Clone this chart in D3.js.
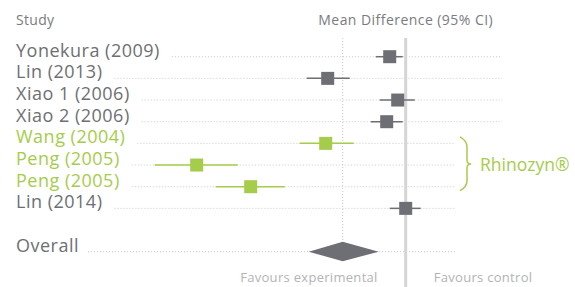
<!DOCTYPE html>
<html>
<head>
<meta charset="utf-8">
<script src="https://cdn.jsdelivr.net/npm/d3@7"></script>
<style>
  body { margin: 0; background: #fff; }
  svg { display: block; font-family: "Open Sans", sans-serif; }
</style>
</head>
<body>
<svg id="chart"></svg>
<script>
const studies = ["Yonekura (2009)", "Lin (2013)", "Xiao 1 (2006)", "Xiao 2 (2006)",
                 "Wang (2004)", "Peng (2005)", "Peng (2005)", "Lin (2014)"];
const groups = ["other", "other", "other", "other", "rhinozyn", "rhinozyn", "rhinozyn", "other"];
const meanDiff = [-0.16, -0.78, -0.08, -0.19, -0.80, -2.09, -1.55, 0.00];
const ciLow = [-0.30, -0.99, -0.26, -0.35, -1.06, -2.51, -1.90, -0.16];
const ciHigh = [-0.03, -0.56, 0.09, -0.03, -0.52, -1.68, -1.21, 0.15];
const overall = { label: "Overall", mean: -0.63, low: -0.97, high: -0.27 };
const brandLabel = "Rhinozyn®";

const width = 575, height = 287;
const grey = "#6e6f74", green = "#a6cc4b", dotGrey = "#c8c8cc";

const svg = d3.select("#chart").attr("width", width).attr("height", height);

const x = d3.scaleLinear().domain([-3, 1]).range([105.7, 505.7]);
const y = d3.scaleLinear().domain([0, 9]).range([56.7, 251.7]);
const colour = d3.scaleOrdinal().domain(["other", "rhinozyn"]).range([grey, green]);

const rows = studies.map((s, i) => ({
    name: s, group: groups[i], mean: meanDiff[i], low: ciLow[i], high: ciHigh[i], row: i
}));

// headers
svg.append("text")
    .attr("x", 16).attr("y", 24.5)
    .attr("font-size", "14px").attr("letter-spacing", "0.3px").attr("fill", "#7a7b80")
    .text("Study");
svg.append("text")
    .attr("x", x(0)).attr("y", 24.5)
    .attr("text-anchor", "middle")
    .attr("font-size", "14px").attr("letter-spacing", "0.45px").attr("fill", "#7a7b80")
    .text("Mean Difference (95% CI)");

// no-effect line
svg.append("line")
    .attr("x1", x(0)).attr("x2", x(0))
    .attr("y1", 38).attr("y2", height)
    .attr("stroke", "#d5d5d8").attr("stroke-width", 3);

// overall estimate dotted line
svg.append("line")
    .attr("x1", x(overall.mean)).attr("x2", x(overall.mean))
    .attr("y1", 38).attr("y2", y(9) - 10)
    .attr("stroke", dotGrey).attr("stroke-width", 1)
    .attr("stroke-dasharray", "1,2");

// labels
const labels = svg.append("g").selectAll("text")
    .data(rows)
    .join("text")
    .attr("x", 16)
    .attr("y", d => y(d.row))
    .attr("font-size", "18px").attr("letter-spacing", "0.5px")
    .attr("fill", d => colour(d.group))
    .text(d => d.name);

const overallLabel = svg.append("text")
    .attr("x", 16).attr("y", y(9))
    .attr("font-size", "18px").attr("letter-spacing", "0.5px").attr("fill", grey)
    .text(overall.label);

// dotted guide lines
const guides = svg.insert("g", "text");
labels.each(function(d) {
    const end = this.getComputedTextLength() + 16;
    guides.append("line")
        .attr("x1", end + 12).attr("x2", d.row < 4 ? 502 : 455)
        .attr("y1", y(d.row)).attr("y2", y(d.row))
        .attr("stroke", dotGrey).attr("stroke-dasharray", "1,2");
});
guides.append("line")
    .attr("x1", overallLabel.node().getComputedTextLength() + 16 + 9).attr("x2", 455)
    .attr("y1", y(9)).attr("y2", y(9))
    .attr("stroke", dotGrey).attr("stroke-dasharray", "1,2");

// CI lines
svg.append("g").selectAll("line")
    .data(rows)
    .join("line")
    .attr("x1", d => x(d.low)).attr("x2", d => x(d.high))
    .attr("y1", d => y(d.row)).attr("y2", d => y(d.row))
    .attr("stroke", d => colour(d.group)).attr("stroke-width", 1.5);

// squares
const sq = 13;
svg.append("g").selectAll("rect")
    .data(rows)
    .join("rect")
    .attr("x", d => x(d.mean) - sq / 2)
    .attr("y", d => y(d.row) - sq / 2)
    .attr("width", sq).attr("height", sq)
    .attr("fill", d => colour(d.group));

// overall diamond
const dy = y(9);
svg.append("path")
    .attr("d", `M${x(overall.low)},${dy} L${x(overall.mean)},${dy - 10} L${x(overall.high)},${dy} L${x(overall.mean)},${dy + 9.5} Z`)
    .attr("fill", grey);

// brace
const bTop = y(4) - 6.5, bBot = y(6) + 4, bMid = (y(4) + y(6)) / 2 - 1;
svg.append("path")
    .attr("d", `M460,${bTop} Q467,${bTop + 4} 467,${bTop + 10} L467,${bMid - 4} Q467,${bMid} 471,${bMid}
                Q467,${bMid} 467,${bMid + 4} L467,${bBot - 10} Q467,${bBot - 4} 460,${bBot}`)
    .attr("fill", "none").attr("stroke", green).attr("stroke-width", 1.5);
svg.append("text")
    .attr("x", 480).attr("y", bMid + 7)
    .attr("font-size", "17.5px").attr("fill", green)
    .text(brandLabel);

// footer
svg.append("text")
    .attr("x", x(0) - 28).attr("y", 282)
    .attr("text-anchor", "end")
    .attr("font-size", "13px").attr("letter-spacing", "0.3px").attr("fill", "#b3b3b7")
    .text("Favours experimental");
svg.append("text")
    .attr("x", x(0) + 28).attr("y", 282)
    .attr("font-size", "13px").attr("letter-spacing", "0.3px").attr("fill", "#b3b3b7")
    .text("Favours control");
</script>
</body>
</html>
